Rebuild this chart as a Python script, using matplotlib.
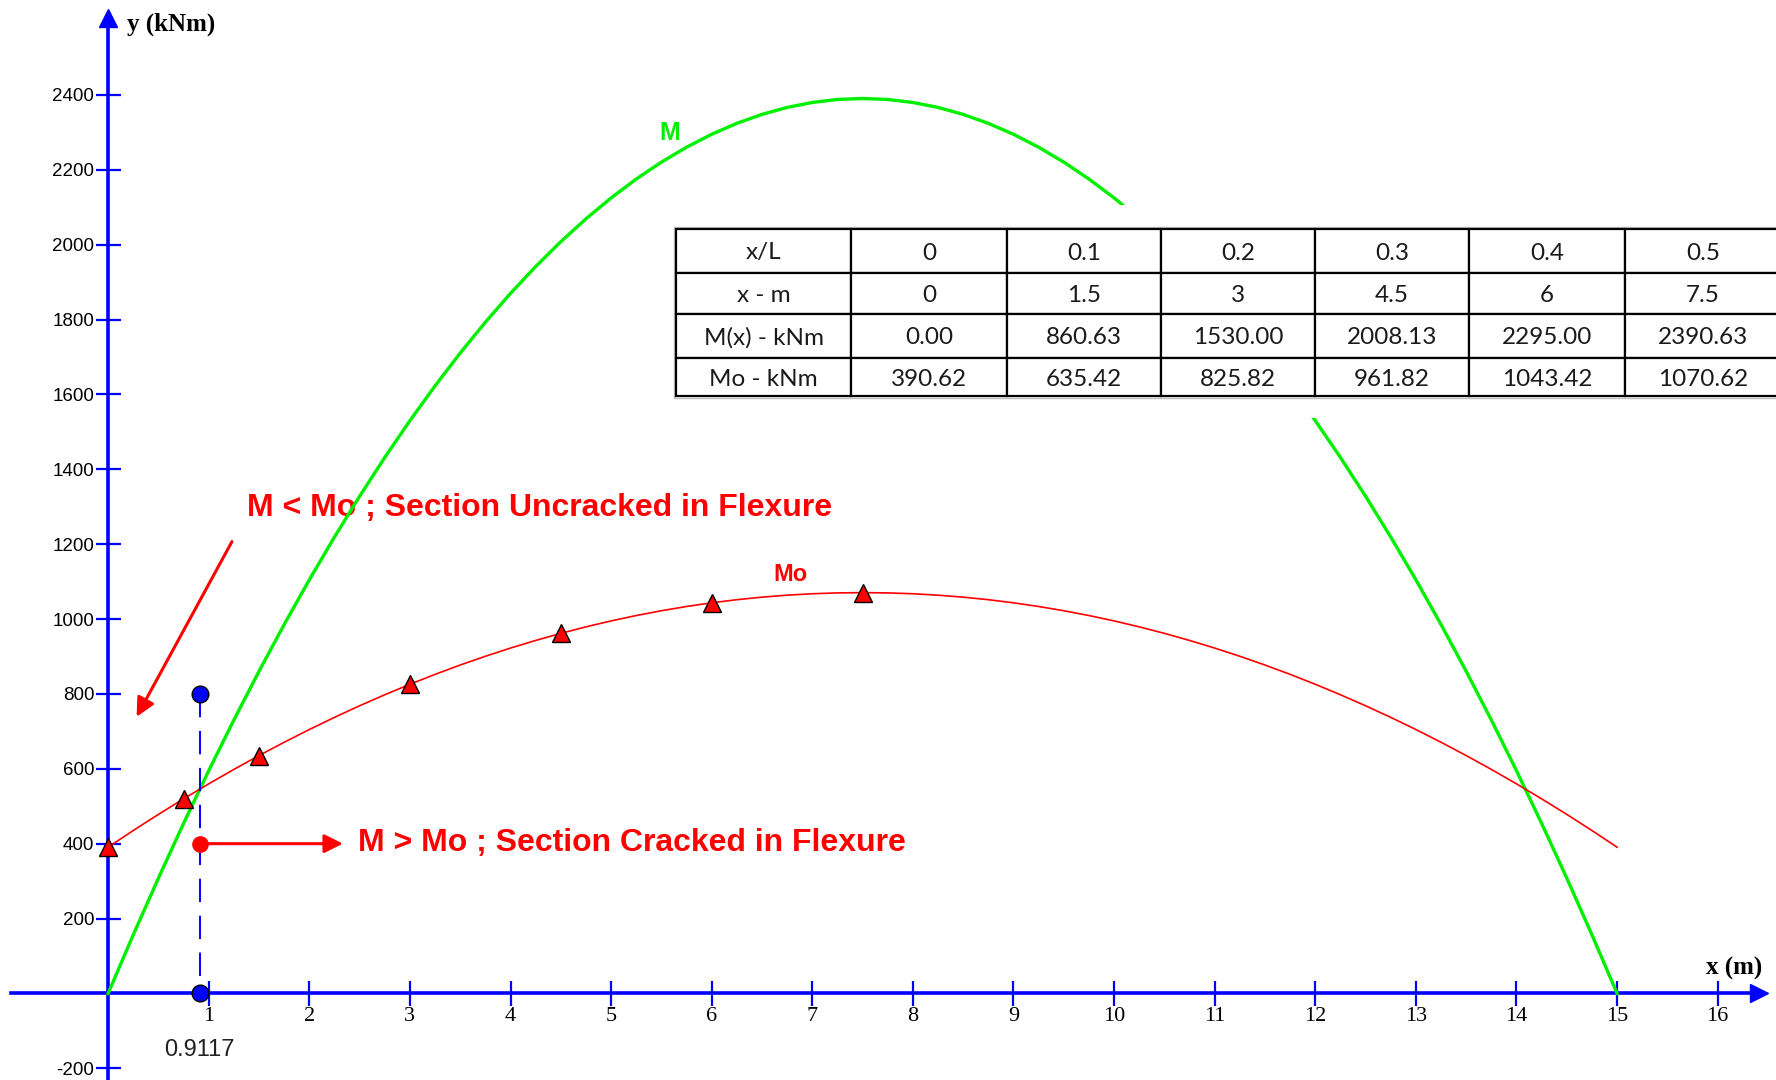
import matplotlib.pyplot as plt
from matplotlib.patches import Rectangle

plt.rcParams['axes.unicode_minus'] = False

# moment diagram sampled every 0.25 m along the 15 m span
x_curve = [0.0, 0.25, 0.5, 0.75, 1.0, 1.25, 1.5, 1.75, 2.0, 2.25, 2.5, 2.75, 3.0, 3.25, 3.5, 3.75,
           4.0, 4.25, 4.5, 4.75, 5.0, 5.25, 5.5, 5.75, 6.0, 6.25, 6.5, 6.75, 7.0, 7.25, 7.5,
           7.75, 8.0, 8.25, 8.5, 8.75, 9.0, 9.25, 9.5, 9.75, 10.0, 10.25, 10.5, 10.75, 11.0,
           11.25, 11.5, 11.75, 12.0, 12.25, 12.5, 12.75, 13.0, 13.25, 13.5, 13.75, 14.0, 14.25,
           14.5, 14.75, 15.0]
m_curve = [0.00, 156.72, 308.13, 454.22, 595.00, 730.47, 860.63, 985.47, 1105.00, 1219.22,
           1328.13, 1431.72, 1530.00, 1622.97, 1710.63, 1792.97, 1870.00, 1941.72, 2008.13,
           2069.22, 2125.00, 2175.47, 2220.63, 2260.47, 2295.00, 2324.22, 2348.13, 2366.72,
           2380.00, 2387.97, 2390.63, 2387.97, 2380.00, 2366.72, 2348.13, 2324.22, 2295.00,
           2260.47, 2220.63, 2175.47, 2125.00, 2069.22, 2008.13, 1941.72, 1870.00, 1792.97,
           1710.63, 1622.97, 1530.00, 1431.72, 1328.13, 1219.22, 1105.00, 985.47, 860.63,
           730.47, 595.00, 454.22, 308.13, 156.72, 0.00]
mo_curve = [390.62, 435.20, 478.26, 519.82, 559.86, 598.40, 635.42, 670.93, 704.93, 737.42,
            768.40, 797.86, 825.82, 852.26, 877.20, 900.62, 922.53, 942.93, 961.82, 979.20,
            995.06, 1009.42, 1022.26, 1033.60, 1043.42, 1051.73, 1058.53, 1063.82, 1067.60,
            1069.86, 1070.62, 1069.86, 1067.60, 1063.82, 1058.53, 1051.73, 1043.42, 1033.60,
            1022.26, 1009.42, 995.06, 979.20, 961.82, 942.93, 922.53, 900.62, 877.20, 852.26,
            825.82, 797.86, 768.40, 737.42, 704.93, 670.93, 635.42, 598.40, 559.86, 519.82,
            478.26, 435.20, 390.62]

# tabulated values
xl_tab = [0, 0.1, 0.2, 0.3, 0.4, 0.5]
x_tab = [0, 1.5, 3, 4.5, 6, 7.5]
m_tab = [0.00, 860.63, 1530.00, 2008.13, 2295.00, 2390.63]
mo_tab = [390.62, 635.42, 825.82, 961.82, 1043.42, 1070.62]

# extra Mo point at x/L = 0.05
x_extra = 0.75
mo_extra = 519.82

# section where M = Mo
x_cr = 0.9117

x_ticks = list(range(1, 17))
y_ticks = [-200, 200, 400, 600, 800, 1000, 1200, 1400, 1600, 1800, 2000, 2200, 2400]

BLUE = '#0000FF'
RED = '#FF0000'
GREEN = '#00F000'

fig = plt.figure(figsize=(17.76, 10.80), dpi=100)
ax = fig.add_axes([0, 0, 1, 1])
ax.set_xlim(-1.075, 16.58)
ax.set_ylim(-231.3, 2653.7)

# axes through the origin
for side in ['top', 'right']:
    ax.spines[side].set_visible(False)
ax.spines['left'].set_position(('data', 0))
ax.spines['bottom'].set_position(('data', 0))
ax.spines['left'].set_bounds(-231.3, 2610)
ax.spines['bottom'].set_bounds(-0.963, 16.42)
for side in ['left', 'bottom']:
    ax.spines[side].set_color(BLUE)
    ax.spines[side].set_linewidth(2.6)
ax.plot(16.41, 0, marker='>', ms=13, color=BLUE, clip_on=False, zorder=6)
ax.plot(0, 2605, marker='^', ms=13, color=BLUE, clip_on=False, zorder=6)

ax.set_xticks(x_ticks)
ax.set_yticks(y_ticks)
ax.tick_params(direction='inout', length=18, width=1.6, color=BLUE)
ax.tick_params(axis='x', pad=1, labelsize=16)
ax.tick_params(axis='y', pad=1, labelsize=13.5)
for lab in ax.get_xticklabels():
    lab.set_fontfamily('Liberation Serif')
for lab in ax.get_yticklabels():
    lab.set_fontfamily('Liberation Sans')

ax.text(0.19, 2588, 'y (kNm)', fontsize=18, fontweight='bold', family='Liberation Serif',
        ha='left', va='center')
ax.text(16.44, 66, 'x (m)', fontsize=18, fontweight='bold', family='Liberation Serif',
        ha='right', va='center')

# curves
ax.plot(x_curve, m_curve, color=GREEN, lw=2.4, zorder=3)
ax.plot(x_curve, mo_curve, color=RED, lw=1.2, zorder=3)
ax.plot([x_extra] + x_tab, [mo_extra] + mo_tab, linestyle='none', marker='^', ms=12.5,
        mfc=RED, mec='black', mew=1.0, zorder=5)

ax.text(5.58, 2298, 'M', color=GREEN, fontsize=18, fontweight='bold',
        family='Liberation Sans', ha='center', va='center')
ax.text(6.78, 1118, 'Mo', color=RED, fontsize=17, fontweight='bold',
        family='Liberation Sans', ha='center', va='center')

# cracking section marker
ax.plot([x_cr, x_cr], [800, 0], color=BLUE, lw=1.4, linestyle=(0, (12, 7)), zorder=4)
ax.plot(x_cr, 800, marker='o', ms=12, mfc=BLUE, mec='black', mew=1, zorder=6)
ax.plot(x_cr, 0, marker='o', ms=12, mfc=BLUE, mec='black', mew=1, zorder=6, clip_on=False)
ax.plot(x_cr, 400, marker='o', ms=11, mfc=RED, mec=RED, zorder=6)
ax.text(x_cr, -151, f'{x_cr:.4f}', fontsize=17, family='Liberation Sans',
        ha='center', va='center', color='#222222')

ax.annotate('', xy=(2.334, 400), xytext=(x_cr, 400),
            arrowprops=dict(arrowstyle='-|>', color=RED, lw=2.2, mutation_scale=28,
                            shrinkA=0, shrinkB=0), zorder=5)
ax.annotate('', xy=(0.283, 739), xytext=(1.231, 1207),
            arrowprops=dict(arrowstyle='-|>', color=RED, lw=2.2, mutation_scale=28,
                            shrinkA=0, shrinkB=0), zorder=5)

ax.text(1.38, 1297, 'M < Mo ; Section Uncracked in Flexure', color=RED, fontsize=23,
        fontweight='bold', family='Liberation Sans', ha='left', va='center', zorder=2)
ax.text(2.48, 402, 'M > Mo ; Section Cracked in Flexure', color=RED, fontsize=23,
        fontweight='bold', family='Liberation Sans', ha='left', va='center', zorder=2)

# value table over a white panel
W, H = 1776.0, 1080.0
ax.add_patch(Rectangle((660 / W, 1 - 418 / H), 1 - 660 / W, (418 - 205) / H,
                       transform=ax.transAxes, facecolor='white', edgecolor='none', zorder=4))
ax.add_patch(Rectangle((674 / W, 1 - 398 / H), (1790 - 674) / W, (398 - 227) / H,
                       transform=ax.transAxes, facecolor='none', edgecolor='#c0c0c0',
                       lw=1.0, zorder=4.5))

cell_text = [
    ['x/L'] + [f'{v:g}' for v in xl_tab],
    ['x - m'] + [f'{v:g}' for v in x_tab],
    ['M(x) - kNm'] + [f'{v:.2f}' for v in m_tab],
    ['Mo - kNm'] + [f'{v:.2f}' for v in mo_tab],
]
col_px = [175, 156, 154, 154, 154, 156, 156]
row_px = [44, 41, 44, 38]
tbl = ax.table(cellText=cell_text, cellLoc='center',
               colWidths=[c / W for c in col_px],
               bbox=[676 / W, 1 - 396 / H, sum(col_px) / W, (396 - 229) / H])
tbl.auto_set_font_size(False)
tbl.set_fontsize(17.5)
tbl.set_zorder(5)
for (r, c), cell in tbl.get_celld().items():
    cell.set_height(row_px[r] / H)
    cell.set_edgecolor('black')
    cell.set_linewidth(1.6)
    cell.set_facecolor('white')
    cell.get_text().set_fontfamily('Lato')
    cell.get_text().set_color('#1a1a1a')
    cell.get_text().set_va('center_baseline')

fig.savefig('out.png', dpi=100)
